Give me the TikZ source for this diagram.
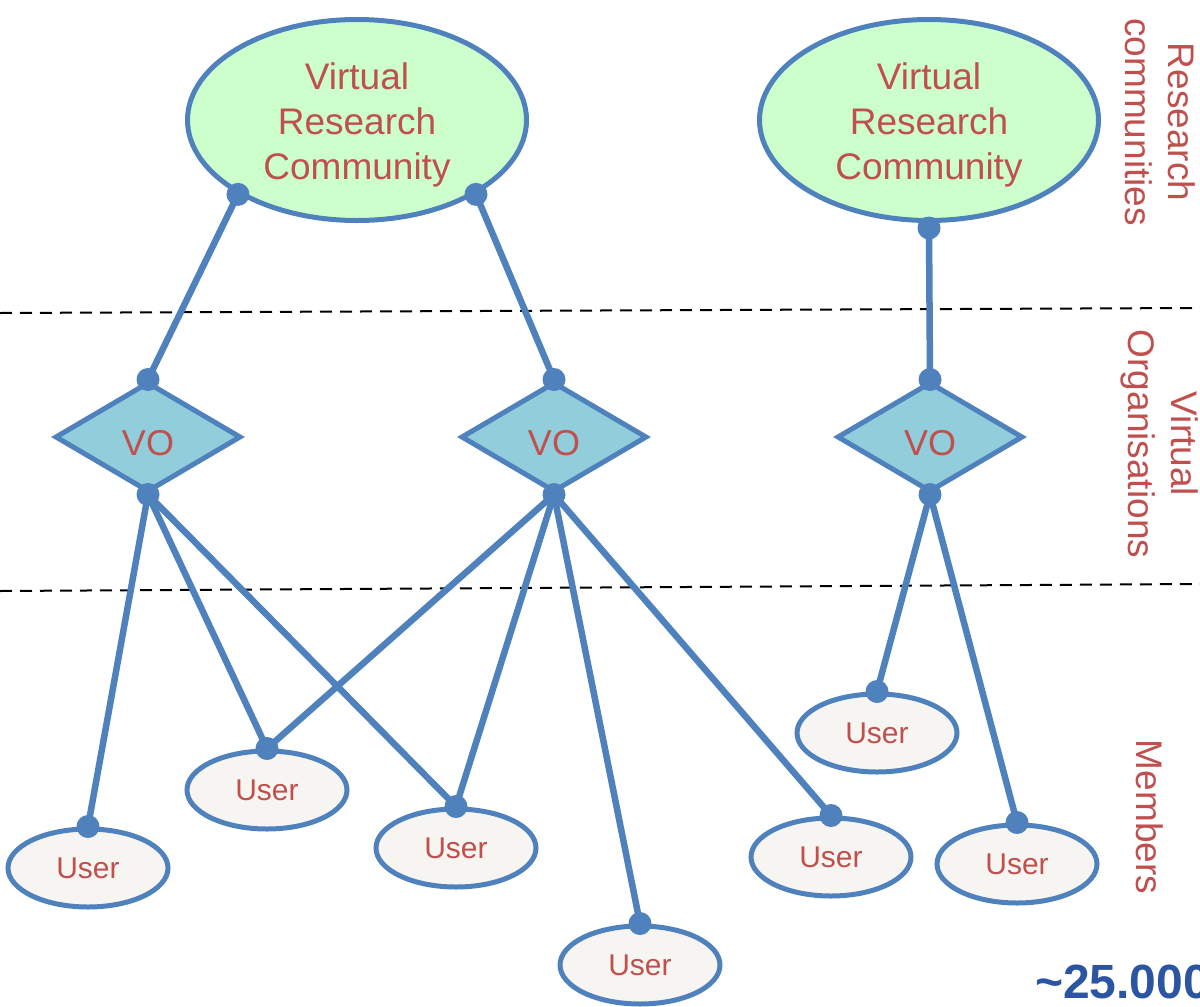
\documentclass[tikz,border=0pt]{standalone}
\usepackage{fontspec}
\setmainfont{Liberation Sans}
\usetikzlibrary{shapes.geometric}
\definecolor{lblue}{HTML}{4F81BD}
\definecolor{lred}{HTML}{C0504D}
\definecolor{vgreen}{HTML}{CCFFCC}
\definecolor{vocyan}{HTML}{92CDDC}
\definecolor{ufill}{HTML}{F7F5F2}
\definecolor{numblue}{HTML}{2B55A3}
\begin{document}
\begin{tikzpicture}[x=1pt,y=-1pt,
  vrc/.style={ellipse, draw=lblue, line width=5pt, fill=vgreen, minimum width=339pt, minimum height=201pt, inner sep=0pt},
  vrctext/.style={text=lred, font=\fontsize{37}{45}\selectfont, align=center, inner sep=0pt},
  vo/.style={diamond, draw=lblue, line width=5pt, fill=vocyan, minimum width=186pt, minimum height=110pt, inner sep=0pt},
  votext/.style={text=lred, font=\fontsize{36}{42}\selectfont, inner sep=0pt},
  usr/.style={ellipse, draw=lblue, line width=5pt, fill=ufill, minimum width=160pt, minimum height=78pt, text=lred, font=\fontsize{30}{36}\selectfont, inner sep=0pt},
  link/.style={draw=lblue, line width=6.5pt},
  side/.style={rotate=-90, align=center, text=lred, font=\fontsize{37}{43}\selectfont, inner sep=0pt},
  sep/.style={draw=black, line width=2pt, dash pattern=on 12pt off 8pt}
]
\useasboundingbox (0,0) rectangle (1200,1007);

% separators
\draw[sep] (0,313) -- (1200,308);
\draw[sep] (0,591) -- (1200,584);

% communities
\node[vrc] (vrc1) at (357,120) {};
\node[vrc] (vrc2) at (929,120) {};
\node[vrctext] (t1) at (357,125) {Virtual\\Research\\Community};
\node[vrctext] (t2) at (929,125) {Virtual\\Research\\Community};

% VOs
\node[vo] (vo1) at (148,437) {};
\node[vo] (vo2) at (554,437) {};
\node[vo] (vo3) at (930,437) {};
\node[votext] (tv1) at (148,443) {VO};
\node[votext] (tv2) at (554,443) {VO};
\node[votext] (tv3) at (930,443) {VO};

% users
\node[usr] (u1) at (88,868) {User};
\node[usr] (u2) at (267,790) {User};
\node[usr] (u3) at (456,848) {User};
\node[usr] (u4) at (640,965) {User};
\node[usr] (u5) at (831,857) {User};
\node[usr] (u6) at (877,733) {User};
\node[usr] (u7) at (1017,864) {User};

% connection points
\coordinate (c1a) at (vrc1.212);
\coordinate (c1b) at (vrc1.328);
\coordinate (c2) at ([yshift=-5pt]vrc2.south);

% links
\draw[link] (c1a) -- (vo1.north);
\draw[link] (c1b) -- (vo2.north);
\draw[link] (c2) -- (vo3.north);
\draw[link] (vo1.south) -- (u1.north);
\draw[link] (vo1.south) -- (u2.north);
\draw[link] (vo1.south) -- (u3.north);
\draw[link] (vo2.south) -- (u2.north);
\draw[link] (vo2.south) -- (u3.north);
\draw[link] (vo2.south) -- (u4.north);
\draw[link] (vo2.south) -- (u5.north);
\draw[link] (vo3.south) -- (u6.north);
\draw[link] (vo3.south) -- (u7.north);

% dots
\foreach \p in {c1a,c1b,c2,vo1.north,vo2.north,vo3.north,vo1.south,vo2.south,vo3.south,u1.north,u2.north,u3.north,u4.north,u5.north,u6.north,u7.north}
  \fill[lblue] (\p) circle (11.5pt);

% side labels
\node[side] (lrc) at (1160,122) {Research\\communities};
\node[side] (lvo) at (1160,444) {Virtual\\Organisations};
\node[side] (lm) at (1150,817) {Members};

\node[anchor=base west, inner sep=0pt, text=numblue, font=\bfseries\fontsize{48}{56}\selectfont] (num) at (1035,998) {\textasciitilde 25.000};
\end{tikzpicture}
\end{document}
